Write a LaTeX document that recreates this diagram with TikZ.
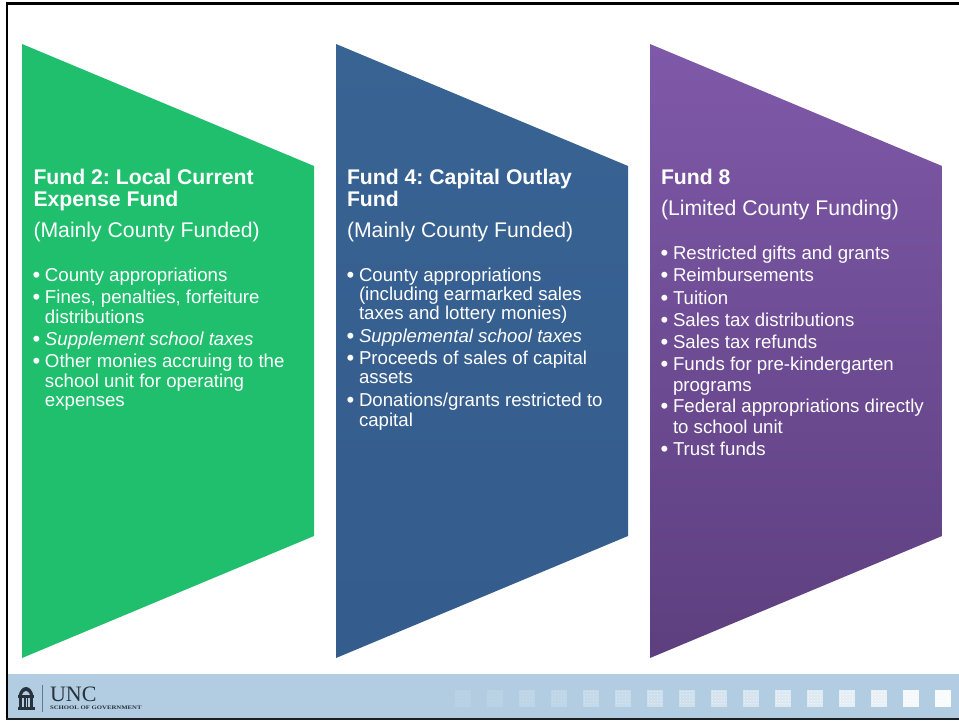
\documentclass[tikz,border=0pt]{standalone}
\usepackage{fontspec}
\setmainfont{Liberation Sans}
\newfontfamily\logofont{Liberation Serif}
\frenchspacing
\definecolor{fundgreen}{HTML}{20BF6E}
\definecolor{bluetop}{HTML}{386393}
\definecolor{bluebot}{HTML}{345C8D}
\definecolor{purpletop}{HTML}{7F59A9}
\definecolor{purplebot}{HTML}{5D3F7F}
\definecolor{band}{HTML}{B2CDE2}
\definecolor{logoink}{HTML}{27323C}
\tikzset{
  txt/.style={anchor=base west,inner sep=0pt,outer sep=0pt,text=white},
  fundtitle/.style={txt,font=\fontsize{21.2}{24}\selectfont\bfseries},
  fundsub/.style={txt,font=\fontsize{21.2}{24}\selectfont},
  bul/.style={txt,font=\fontsize{18.65}{20}\selectfont},
  bulit/.style={txt,font=\fontsize{18.65}{20}\selectfont\itshape},
  dotmark/.style={txt,yshift=-1pt,font=\fontsize{22}{22}\selectfont}
}
\newcommand\fundshape[1]{(#1,44) -- ({#1+292},166) -- ({#1+292},536) -- (#1,658) -- cycle}
\begin{document}
\begin{tikzpicture}[x=1pt,y=-1pt]
\useasboundingbox (0,0) rectangle (959,721);
\fill[white] (0,0) rectangle (959,721);
% footer band
\fill[band] (8,674) rectangle (959,718);
% frame
\fill[black] (6,2) rectangle (959,5);
\fill[black] (6,2) rectangle (8.4,720);
\fill[black!85!band] (6,718) rectangle (959,720);
% funds
\fill[fundgreen] \fundshape{22};
\shade[top color=bluetop,bottom color=bluebot] \fundshape{336};
\shade[top color=purpletop,bottom color=purplebot] \fundshape{650};
% Fund 2
\node[fundtitle] (t2a) at (33.5,184) {Fund 2: Local Current};
\node[fundtitle] (t2b) at (33.5,206) {Expense Fund};
\node[fundsub] (s2) at (33.5,237) {(Mainly County Funded)};
\foreach \n/\y in {1/281,2/303,3/345,4/367}
  \node[dotmark] (b2\n) at (32.5,\y) {•};
\node[bul] (a1) at (45,281) {County appropriations};
\node[bul] (a2) at (45,303) {Fines, penalties, forfeiture};
\node[bul] (a3) at (45,323) {distributions};
\node[bulit] (a4) at (45,345) {Supplement school taxes};
\node[bul] (a5) at (45,367) {Other monies accruing to the};
\node[bul] (a6) at (45,387) {school unit for operating};
\node[bul] (a7) at (45,406) {expenses};
% Fund 4
\node[fundtitle] (t4a) at (347,184) {Fund 4: Capital Outlay};
\node[fundtitle] (t4b) at (347,206) {Fund};
\node[fundsub] (s4) at (347,237) {(Mainly County Funded)};
\foreach \n/\y in {1/281,2/342,3/364,4/406}
  \node[dotmark] (b4\n) at (346.5,\y) {•};
\node[bul] (c1) at (359,281) {County appropriations};
\node[bul] (c2) at (359,300) {(including earmarked sales};
\node[bul] (c3) at (359,319) {taxes and lottery monies)};
\node[bulit] (c4) at (359,342) {Supplemental school taxes};
\node[bul] (c5) at (359,364) {Proceeds of sales of capital};
\node[bul] (c6) at (359,383) {assets};
\node[bul] (c7) at (359,406) {Donations/grants restricted to};
\node[bul] (c8) at (359,426) {capital};
% Fund 8
\node[fundtitle] (t8a) at (661,184) {Fund 8};
\node[fundsub] (s8) at (661,215) {(Limited County Funding)};
\foreach \n/\y in {1/259,2/281,3/304,4/326.5,5/348.5,6/370.5,7/412.5,8/455}
  \node[dotmark] (b8\n) at (660.5,\y) {•};
\node[bul] (e1) at (673,259) {Restricted gifts and grants};
\node[bul] (e2) at (673,281) {Reimbursements};
\node[bul] (e3) at (673,304) {Tuition};
\node[bul] (e4) at (673,326.5) {Sales tax distributions};
\node[bul] (e5) at (673,348.5) {Sales tax refunds};
\node[bul] (e6) at (673,370.5) {Funds for pre-kindergarten};
\node[bul] (e7) at (673,391) {programs};
\node[bul] (e8) at (673,412.5) {Federal appropriations directly};
\node[bul] (e9) at (673,433) {to school unit};
\node[bul] (e10) at (673,455) {Trust funds};
% logo: well
\begin{scope}[logoink]
  \fill (18.5,696) .. controls (19.5,690) and (23,687) .. (26,687) .. controls (29,687) and (32.5,690) .. (33.5,696) -- cycle;
  \fill[band] (22,695) .. controls (22.5,692.5) and (24.5,691) .. (26,691) .. controls (27.5,691) and (29.5,692.5) .. (30,695) -- cycle;
  \fill (18,694.5) rectangle (34,698);
  \fill (19,698) rectangle (22,707);
  \fill (24,698) rectangle (25.5,707);
  \fill (26.5,698) rectangle (28,707);
  \fill (30,698) rectangle (33,707);
  \fill (17.5,706.5) rectangle (34.5,710);
  \fill[logoink!55!band] (41.6,685) rectangle (42.6,712);
\end{scope}
\node[txt,text=logoink,font=\logofont\fontsize{22}{23}\selectfont,xscale=1] (unc) at (50,701.5) {UNC};
\node[txt,text=logoink,font=\logofont\bfseries\fontsize{5.4}{6}\selectfont,xscale=1.25] (sog) at (50,709.5) {SCHOOL OF GOVERNMENT};
% fading squares
\foreach \i/\op in {0/.09,1/.1,2/.16,3/.18,4/.26,5/.29,6/.36,7/.38,8/.46,9/.48,10/.56,11/.58,12/.68,13/.7,14/.88,15/.92}{
  \pgfmathsetmacro{\sx}{455+32*\i}
  \fill[white,opacity=\op] (\sx,690) rectangle ({\sx+15.5},707);
  \foreach \d in {0.8,3.8,...,12.8}
    \foreach \e in {1,4,...,15}
      \fill[white,opacity=\op] ({\sx+\d},{690+\e}) rectangle ({\sx+\d+1.4},{690+\e+1.4});
}
\end{tikzpicture}
\end{document}
